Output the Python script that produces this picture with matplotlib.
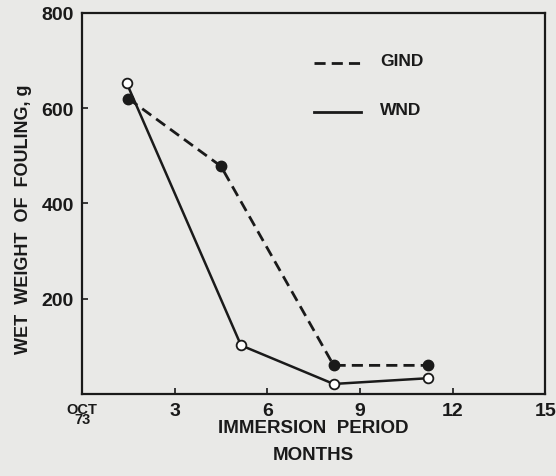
import matplotlib
matplotlib.use("Agg")
import matplotlib.pyplot as plt

# data
months_gind = [1.5, 4.5, 8.15, 11.2]
weight_gind = [620, 478, 60, 60]
months_wnd = [1.45, 5.15, 8.15, 11.2]
weight_wnd = [652, 102, 21, 33]

x_ticks = [0, 3, 6, 9, 12, 15]
x_ticklabels = ["OCT\n73", "3", "6", "9", "12", "15"]
y_ticks = [200, 400, 600, 800]

bg = "#e9e9e7"
ink = "#1a1a1a"
plt.rcParams['font.family'] = ['Liberation Sans', 'DejaVu Sans']
plt.rcParams['font.weight'] = 'bold'
plt.rcParams['axes.labelweight'] = 'bold'

fig = plt.figure(figsize=(5.56, 4.77), dpi=100, facecolor=bg)
ax = fig.add_axes([0.1475, 0.172, 0.833, 0.799], facecolor=bg)

ax.plot(months_gind, weight_gind, color=ink, lw=2.0, ls=(0, (4, 2.2)),
        marker="o", ms=7.5, mfc=ink, mec=ink, zorder=3)
ax.plot(months_wnd, weight_wnd, color=ink, lw=1.8, ls="-",
        marker="o", ms=7, mfc="white", mec=ink, mew=1.3, zorder=4)

# hand-drawn style legend inside the plot
ax.plot([7.5, 9.05], [695, 695], color=ink, lw=2.0, ls=(0, (4, 2.2)))
ax.text(9.65, 700, "GIND", fontsize=12.5, color=ink, va="center")
ax.plot([7.5, 9.05], [592, 592], color=ink, lw=2.0)
ax.text(9.65, 598, "WND", fontsize=12.5, color=ink, va="center")

ax.set_xlim(0, 15)
ax.set_ylim(0, 800)
ax.set_xticks(x_ticks)
ax.set_xticklabels(x_ticklabels)
ax.set_yticks(y_ticks)
ax.tick_params(direction="in", length=4, width=1.2, colors=ink,
               labelsize=14, pad=6)
ax.get_xticklabels()[0].set_fontsize(10.5)
ax.get_xticklabels()[0].set_linespacing(0.6)
for sp in ax.spines.values():
    sp.set_linewidth(1.6)
    sp.set_color(ink)

ax.set_ylabel("WET  WEIGHT  OF  FOULING, g", fontsize=13, color=ink,
              labelpad=4)
ax.yaxis.set_label_coords(-0.108, 0.46)
ax.set_xlabel("IMMERSION  PERIOD\nMONTHS", fontsize=13.5, color=ink,
              linespacing=1.75, labelpad=-5)

fig.savefig("out.png", dpi=100, facecolor=bg)
